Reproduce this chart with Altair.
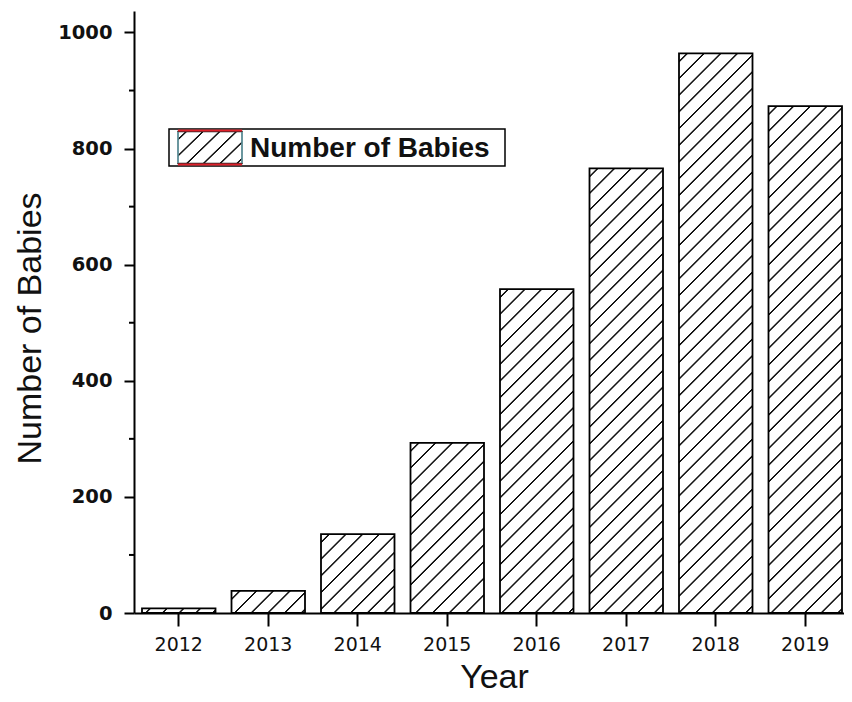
import math
import altair as alt
import pandas as pd

# ---------------- data ----------------
years = ["2012", "2013", "2014", "2015", "2016", "2017", "2018", "2019"]
babies = [8, 38, 136, 293, 558, 766, 964, 873]
series_name = "Number of Babies"
x_title = "Year"
y_title = "Number of Babies"
y_major_ticks = [0, 200, 400, 600, 800, 1000]
y_minor_ticks = [100, 300, 500, 700, 900]
y_max = 1037

# ---------------- layout ----------------
W, H = 710, 602
PAD_BOTTOM = 81
STEP = 89.5
N = len(years)
PAD_INNER = 16 / STEP
PAD_OUTER = (W / STEP - N + PAD_INNER) / 2
ALIGN = 8 / (W - STEP * (N - PAD_INNER))
BAR_W = STEP * (1 - PAD_INNER)


def hatch(w, h, spacing=16.7, core=0.45, fade=1.05, color="#151515"):
    """45-degree hatch drawn as a linear gradient in bbox units."""
    L = w + h
    d = w * w + h * h
    x2 = w * L / d
    y2 = h * L / d
    r2 = math.sqrt(2)
    stops = [{"offset": 0, "color": "white"}]
    c = spacing * 0.5
    while c < L + fade * r2:
        for off, col in ((c - fade * r2, "white"), (c - core * r2, color),
                         (c + core * r2, color), (c + fade * r2, "white")):
            o = min(max(off / L, 0.0), 1.0)
            stops.append({"offset": round(o, 5), "color": col})
        c += spacing
    stops.append({"offset": 1, "color": "white"})
    return {"gradient": "linear", "x1": 0, "y1": 0,
            "x2": round(x2, 5), "y2": round(y2, 5), "stops": stops}


df = pd.DataFrame({"Year": years, "Babies": babies})
minor_df = pd.DataFrame({"tick": y_minor_ticks})

x_scale = alt.Scale(domain=years, paddingInner=PAD_INNER,
                    paddingOuter=PAD_OUTER, align=ALIGN)
y_scale = alt.Scale(domain=[0, y_max], nice=False, zero=True)

x_axis = alt.Axis(
    labelAngle=0, labelFont="DejaVu Sans", labelFontSize=19,
    labelColor="#111111", labelPadding=9, tickSize=13, tickWidth=2,
    tickColor="black", domainWidth=2, domainColor="black", grid=False,
    title=x_title, titleFont="Liberation Sans", titleFontSize=34,
    titleFontWeight="normal", titleColor="#111111", titleX=360,
    titleY=PAD_BOTTOM - 7, titleAlign="center", titleBaseline="alphabetic")

y_axis = alt.Axis(
    values=y_major_ticks, format="d", labelFont="DejaVu Sans",
    labelFontWeight="bold", labelFontSize=19.5, labelColor="#111111",
    labelPadding=12, tickSize=10, tickWidth=2, tickColor="black",
    domainWidth=2, domainColor="black", grid=False, title=y_title,
    titleFont="Liberation Sans", titleFontSize=34, titleFontWeight="normal",
    titleColor="#111111", titleX=-94, titleY=317, titleAlign="center",
    titleBaseline="alphabetic")

layers = []
for i, (yr, v) in enumerate(zip(years, babies)):
    h_px = v * H / y_max
    if i == 0:
        xe = alt.X("Year:N", scale=x_scale, axis=x_axis)
        ye = alt.Y("Babies:Q", scale=y_scale, axis=y_axis)
    else:
        xe = alt.X("Year:N", scale=x_scale)
        ye = alt.Y("Babies:Q", scale=y_scale)
    bar = alt.Chart(df).transform_filter(
        alt.datum.Year == yr
    ).mark_bar(
        fill=hatch(BAR_W, h_px), stroke="black", strokeWidth=1.8
    ).encode(x=xe, y=ye)
    layers.append(bar)

# minor ticks on the y axis (at data values, drawn outward from the axis)
minor = alt.Chart(minor_df).mark_rule(color="black", strokeWidth=2).encode(
    x=alt.value(-5), x2=alt.value(0),
    y=alt.Y("tick:Q", scale=y_scale),
)
layers.append(minor)

# ---------------- legend (drawn by hand) ----------------
leg = pd.DataFrame({"label": [series_name]})
box = alt.Chart(leg).mark_rect(fill="white", stroke="black", strokeWidth=1.5).encode(
    x=alt.value(35), x2=alt.value(371), y=alt.value(118), y2=alt.value(155))
swatch = alt.Chart(leg).mark_rect(fill=hatch(64, 33), stroke="#222222", strokeWidth=1.5).encode(
    x=alt.value(44), x2=alt.value(108), y=alt.value(120.5), y2=alt.value(152.5))
red_top = alt.Chart(leg).mark_rule(color="#e0202a", strokeWidth=2).encode(
    x=alt.value(44), x2=alt.value(108), y=alt.value(119.5))
red_bot = alt.Chart(leg).mark_rule(color="#e0202a", strokeWidth=2).encode(
    x=alt.value(44), x2=alt.value(108), y=alt.value(153.5))
cyan_l = alt.Chart(leg).mark_rule(color="#7fd6e6", strokeWidth=1).encode(
    x=alt.value(44), y=alt.value(121), y2=alt.value(152))
cyan_r = alt.Chart(leg).mark_rule(color="#7fd6e6", strokeWidth=1).encode(
    x=alt.value(108), y=alt.value(121), y2=alt.value(152))
label = alt.Chart(leg).mark_text(
    align="left", baseline="alphabetic", font="Liberation Sans",
    fontWeight="bold", fontSize=28, color="#111111"
).encode(x=alt.value(116), y=alt.value(146), text="label:N")

layers += [box, swatch, red_top, red_bot, cyan_l, cyan_r, label]

chart = alt.layer(*layers).properties(
    width=W, height=H,
    autosize=alt.AutoSizeParams(type="none"),
    padding={"left": 126, "top": 3, "right": 0, "bottom": PAD_BOTTOM},
    background="white",
).configure_view(stroke=None)

chart.save("out.html", embed_options={"renderer": "svg", "actions": False})
